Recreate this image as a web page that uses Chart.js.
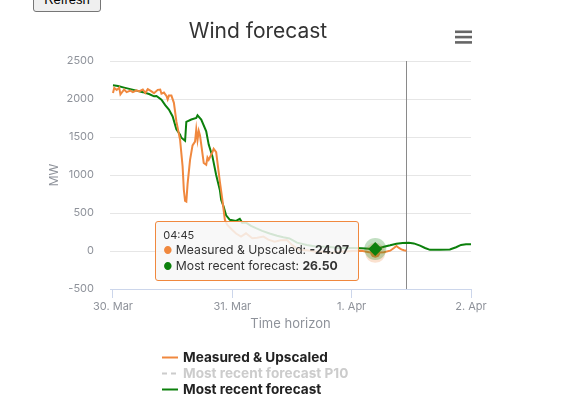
<!DOCTYPE html>
<html>
<head>
<meta charset="utf-8">
<script src="https://cdn.jsdelivr.net/npm/chart.js@4/dist/chart.umd.min.js"></script>
<style>
  html, body { margin: 0; padding: 0; background: #fff; }
  #wrap { position: relative; width: 563px; height: 395px; overflow: hidden; }
  #windChart { position: absolute; left: 0; top: 0; }
  #refresh {
    position: absolute; left: 33px; top: -14px; width: 68px; height: 26px;
    font: 13px Arial, sans-serif; color: #000; background: #efefef;
    border: 1px solid #767676; border-radius: 3px; padding: 0;
  }
  #tip {
    position: absolute; display: none; white-space: nowrap;
    background: rgba(247, 247, 247, 0.85); border: 1px solid #f0883e; border-radius: 3px;
    padding: 7px 9px 6px 7px; font-family: Inter, sans-serif; color: #333; pointer-events: none;
  }
  #tip .t { font-size: 11px; line-height: 13px; }
  #tip .l { font-size: 12.2px; line-height: 16px; }
  #tip .d { font-size: 10px; }
</style>
</head>
<body>
<div id="wrap">
  <canvas id="windChart" width="563" height="395"></canvas>
  <button id="refresh">Refresh</button>
  <div id="tip"></div>
</div>
<script>
// hours since 30 Mar 00:00
const measuredHours = [0, 0.25, 0.75, 1.25, 1.5, 2.25, 2.75, 3.5, 4, 4.75, 5.25, 6, 6.5, 7, 7.75, 8.25, 9, 9.5, 9.75,
  10.25, 10.75, 11, 11.25, 11.75, 12.25, 12.75, 13.5, 14, 14.25, 14.5, 14.75, 15, 15.5, 16, 16.5, 16.75, 17,
  17.25, 17.5, 18.25, 18.75, 19, 19.25, 20, 20.25, 20.75, 21.5, 22, 22.5, 23, 24, 24.75, 25.75, 26.75, 28,
  29, 30.25, 31.25, 32.5, 33.75, 35, 36, 36.75, 37.5, 39, 40.5, 42.25, 43.5, 45.25, 46.5, 48.25, 50, 51.5,
  52.75, 54.5, 55.75, 56.5, 57, 57.5, 58, 58.5, 59];
const measuredMW = [2080, 2145, 2120, 2150, 2060, 2125, 2090, 2110, 2090, 2115, 2100, 2125, 2080, 2130, 2100, 2075, 2120, 2125, 2070,
  2085, 2040, 1995, 2045, 2045, 1950, 1705, 1460, 1113, 805, 660, 650, 880, 1200, 1390, 1440, 1600, 1460,
  1580, 1520, 1158, 1135, 1230, 1200, 1300, 1345, 1300, 910, 673, 410, 343, 277, 230, 190, 233, 167,
  175, 190, 150, 123, 140, 145, 80, 45, 13, 10, -5, -9, -25, -10, -5, 0, 4, -15,
  -24.07, -17, 4, 40, 66, 40, 22, 10, 4];

const forecastHours = [0, 1, 2.25, 3.5, 4.75, 6, 7.25, 8.25, 8.75, 9.75, 10.5, 11.25, 12, 12.75, 13.5, 13.75, 14.5, 14.75,
  15.75, 16.75, 17, 17.75, 18.75, 19.25, 20, 20.75, 21.5, 21.75, 22.25, 22.75, 23.5, 24.75, 25.5, 26, 26.75,
  27.75, 28.75, 30, 31.5, 33, 34.25, 35.5, 37, 39, 40.75, 43, 45.5, 48.25, 50, 51.5, 52.75, 54.5, 55.75,
  57, 58.25, 59.5, 60.5, 61.75, 62.75, 63.75, 65.75, 67.75, 69, 70, 71, 72];
const forecastMW = [2180, 2170, 2150, 2130, 2110, 2090, 2065, 2035, 2040, 1990, 1920, 1860, 1770, 1600, 1530, 1490, 1450, 1700,
  1730, 1750, 1785, 1730, 1575, 1400, 1245, 1000, 800, 673, 585, 470, 410, 396, 422, 370, 374,
  330, 300, 265, 230, 200, 180, 165, 110, 80, 60, 57, 40, 40, 35, 30, 26.5, 57, 75,
  95, 105, 110, 100, 70, 40, 15, 15, 20, 50, 80, 90, 88];

// P10 series is switched off in the legend
const p10Hours = [];
const p10MW = [];

const tickHours = [0, 24, 48, 72];
const tickLabels = ['30. Mar', '31. Mar', '1. Apr', '2. Apr'];
const nowHour = 59;
const hoverHour = 52.75;

const ORANGE = '#f0883e';
const GREEN = '#0c800c';
const AXIS_TEXT = '#8e929a';

function toPoints(xs, ys) {
  return xs.map((x, i) => ({ x: x, y: ys[i] }));
}

function hhmm(h) {
  const t = Math.round((h % 24) * 60);
  return String(Math.floor(t / 60)).padStart(2, '0') + ':' + String(t % 60).padStart(2, '0');
}

function externalTooltip(context) {
  const tip = document.getElementById('tip');
  const tt = context.tooltip;
  if (tt.opacity === 0 || !tt.dataPoints || !tt.dataPoints.length) {
    tip.style.display = 'none';
    return;
  }
  let html = '<div class="t">' + hhmm(tt.dataPoints[0].parsed.x) + '</div>';
  tt.dataPoints.forEach(dp => {
    html += '<div class="l"><span class="d" style="color:' + dp.dataset.borderColor + '">\u25CF</span> ' +
      dp.dataset.label + ': <b>' + dp.parsed.y.toFixed(2) + '</b></div>';
  });
  tip.innerHTML = html;
  tip.style.display = 'block';
  tip.style.left = (tt.caretX - 16 - tip.offsetWidth) + 'px';
  tip.style.top = (tt.caretY - tip.offsetHeight / 2) + 'px';
}

// vertical "now" line, hover halos, title, menu icon and legend
const decorPlugin = {
  id: 'decor',
  beforeDatasetsDraw(chart) {
    const ctx = chart.ctx;
    const area = chart.chartArea;
    const x = Math.round(chart.scales.x.getPixelForValue(nowHour)) + 0.5;
    ctx.save();
    ctx.strokeStyle = '#8a8a8a';
    ctx.lineWidth = 1;
    ctx.beginPath();
    ctx.moveTo(x, area.top);
    ctx.lineTo(x, area.bottom);
    ctx.stroke();
    ctx.restore();
  },
  afterDatasetsDraw(chart) {
    const ctx = chart.ctx;
    ctx.save();
    chart.getActiveElements().forEach(a => {
      const el = a.element;
      const color = chart.data.datasets[a.datasetIndex].borderColor;
      const diamond = a.datasetIndex === 2;
      ctx.globalAlpha = 0.25;
      ctx.fillStyle = color;
      ctx.beginPath();
      ctx.arc(el.x, el.y, diamond ? 11 : 10, 0, Math.PI * 2);
      ctx.fill();
      ctx.globalAlpha = 1;
      ctx.beginPath();
      if (diamond) {
        ctx.moveTo(el.x, el.y - 7);
        ctx.lineTo(el.x + 7, el.y);
        ctx.lineTo(el.x, el.y + 7);
        ctx.lineTo(el.x - 7, el.y);
        ctx.closePath();
      } else {
        ctx.arc(el.x, el.y, 5, 0, Math.PI * 2);
      }
      ctx.fill();
    });
    ctx.restore();
  },
  afterDraw(chart) {
    const ctx = chart.ctx;
    ctx.save();
    // title
    ctx.fillStyle = '#333';
    ctx.font = '21px Inter, sans-serif';
    ctx.textAlign = 'center';
    ctx.textBaseline = 'alphabetic';
    ctx.fillText('Wind forecast', 258, 38);
    // context menu icon
    ctx.fillStyle = '#666';
    [30.5, 35.8, 41.1].forEach(y => ctx.fillRect(455, y, 17, 2.6));
    // legend
    ctx.textAlign = 'left';
    ctx.textBaseline = 'middle';
    ctx.font = 'bold 13.6px Inter, sans-serif';
    chart.data.datasets.forEach((ds, i) => {
      const y = 357 + i * 16;
      const hidden = !chart.isDatasetVisible(i);
      ctx.strokeStyle = hidden ? '#cccccc' : ds.borderColor;
      ctx.lineWidth = 2;
      ctx.setLineDash(ds.borderDash || []);
      ctx.beginPath();
      ctx.moveTo(162, y + 0.5);
      ctx.lineTo(178, y + 0.5);
      ctx.stroke();
      ctx.setLineDash([]);
      ctx.fillStyle = hidden ? '#cccccc' : '#222';
      ctx.fillText(ds.label, 183, y + 1);
    });
    ctx.restore();
  }
};

Chart.defaults.font.family = 'Inter, sans-serif';

const chart = new Chart(document.getElementById('windChart'), {
  type: 'line',
  data: {
    datasets: [
      {
        label: 'Measured & Upscaled',
        data: toPoints(measuredHours, measuredMW),
        borderColor: ORANGE,
        backgroundColor: ORANGE,
        borderWidth: 2,
        pointRadius: 0,
        pointHoverRadius: 0,
        tension: 0,
      },
      {
        label: 'Most recent forecast P10',
        data: toPoints(p10Hours, p10MW),
        borderColor: '#a0a0a0',
        borderDash: [5, 4],
        borderWidth: 2,
        pointRadius: 0,
        hidden: true,
      },
      {
        label: 'Most recent forecast',
        data: toPoints(forecastHours, forecastMW),
        borderColor: GREEN,
        backgroundColor: GREEN,
        borderWidth: 2,
        pointRadius: 0,
        pointHoverRadius: 0,
        tension: 0,
      },
    ],
  },
  options: {
    responsive: false,
    animation: false,
    devicePixelRatio: 1,
    events: [],
    layout: { padding: { left: 0, top: 61, right: 92, bottom: 0 } },
    plugins: {
      legend: { display: false },
      title: { display: false },
      tooltip: { enabled: false, position: 'average', external: externalTooltip },
    },
    scales: {
      x: {
        type: 'linear',
        min: -0.6,
        max: 72,
        afterBuildTicks: s => { s.ticks = tickHours.map(v => ({ value: v })); },
        afterFit: s => { s.height = 106; },
        grid: { drawOnChartArea: false, drawTicks: true, tickLength: 9, tickColor: '#ccd6eb' },
        border: { display: true, color: '#ccd6eb' },
        ticks: {
          color: AXIS_TEXT,
          font: { size: 11 },
          padding: 2,
          maxRotation: 0,
          autoSkip: false,
          callback: v => tickLabels[tickHours.indexOf(v)],
        },
        title: {
          display: true,
          text: 'Time horizon',
          color: AXIS_TEXT,
          font: { size: 13 },
          padding: { top: 0, bottom: 63 },
        },
      },
      y: {
        min: -500,
        max: 2500,
        afterFit: s => { s.width = 110; },
        grid: { color: '#e6e6e6', drawTicks: false },
        border: { display: false },
        ticks: {
          stepSize: 500,
          color: AXIS_TEXT,
          font: { size: 11 },
          padding: 16,
          callback: v => String(v),
        },
        title: {
          display: true,
          text: 'MW',
          color: AXIS_TEXT,
          font: { size: 12 },
          padding: { top: 47, bottom: 0 },
        },
      },
    },
  },
  plugins: [decorPlugin],
});

const active = [
  { datasetIndex: 0, index: measuredHours.indexOf(hoverHour) },
  { datasetIndex: 2, index: forecastHours.indexOf(hoverHour) },
];
chart.setActiveElements(active);
chart.tooltip.setActiveElements(active, { x: 0, y: 0 });
chart.draw();
</script>
</body>
</html>
